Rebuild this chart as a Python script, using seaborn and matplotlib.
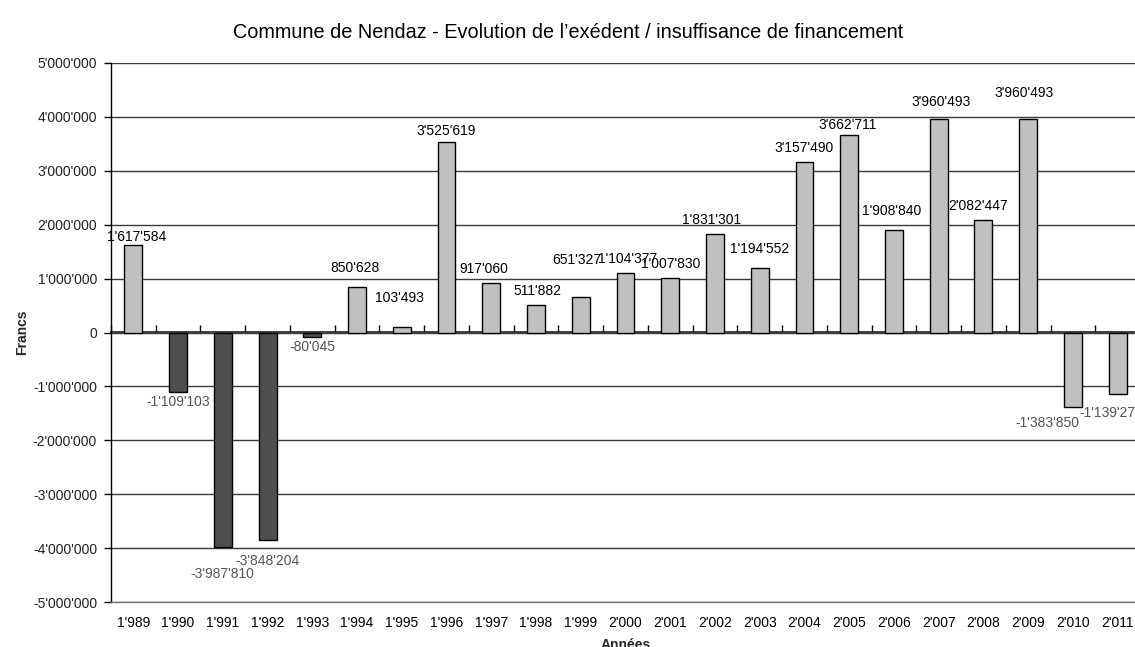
import matplotlib
matplotlib.use("Agg")
import matplotlib.pyplot as plt
import seaborn as sns
import pandas as pd
import numpy as np
from matplotlib.ticker import FixedLocator, FuncFormatter

years = list(range(1989, 2012))
values = [1617584, -1109103, -3987810, -3848204, -80045, 850628, 103493, 3525619,
          917060, 511882, 651327, 1104377, 1007830, 1831301, 1194552, 3157490,
          3662711, 1908840, 3960493, 2082447, 3960493, -1383850, -1139275]
dark_years = [1990, 1991, 1992, 1993]
y_ticks = list(range(-5000000, 5000001, 1000000))

# label offsets in pixels (dx, dy) relative to bar end
label_offsets = [(3, 8), (0, -10), (-1, -27), (0, -21), (0, -10), (-2, 19), (-2, 29), (0, 11),
                 (-7, 14), (1, 14), (-4, 37), (2, 14), (0, 14), (-3, 14), (0, 19), (0, 14),
                 (-2, 10), (-2, 19), (2, 17), (-5, 14), (-4, 26), (-26, -16), (-6, -19)]

def fmt(v):
    return f"{int(v):,}".replace(",", "'")

sns.set_theme(style="white")
plt.rcParams['font.family'] = ['Liberation Sans', 'DejaVu Sans']

df = pd.DataFrame({"year": [fmt(y) for y in years], "value": values})
df["grp"] = ["dark" if y in dark_years else "light" for y in years]
palette = {"dark": "#4F4F4F", "light": "#C0C0C0"}

fig = plt.figure(figsize=(11.35, 6.47), dpi=100)
ax = fig.add_axes([111/1135, 1-602/647, 1029/1135, 539/647])

sns.barplot(data=df, x="year", y="value", hue="grp", palette=palette, dodge=False,
            width=0.40, edgecolor="black", linewidth=1.0, legend=False, ax=ax, zorder=3)

ax.set_ylim(-5000000, 5000000)
ax.set_xlim(-0.5, len(years) - 0.5)
ax.yaxis.set_major_locator(FixedLocator(y_ticks))
ax.yaxis.set_major_formatter(FuncFormatter(lambda v, p: fmt(v)))
ax.grid(axis="y", color="#3a3a3a", linewidth=1.0, zorder=0)
ax.set_axisbelow(True)

for s in ["top", "right"]:
    ax.spines[s].set_visible(False)
ax.spines["left"].set_color("black")
ax.spines["left"].set_linewidth(1.0)
ax.spines["bottom"].set_color("#777777")
ax.spines["bottom"].set_linewidth(1.0)

ax.tick_params(axis="y", direction="out", length=5, width=1, color="black",
               labelsize=10, pad=5, left=True)
ax.tick_params(axis="x", length=0, labelsize=10, pad=10, labelcolor="black")
for t in ax.get_yticklabels():
    t.set_color("#222222")

# zero axis with category-boundary ticks
sec = ax.secondary_xaxis(0.5)
sec.set_xticks(np.arange(-0.5, len(years) + 0.5, 1.0))
sec.set_xticklabels([])
sec.tick_params(axis="x", direction="out", length=5, width=1, color="black")
sec.spines["bottom"].set_color("black")
sec.spines["bottom"].set_linewidth(1.0)

ax.set_ylabel("Francs", fontsize=10, fontweight="bold", labelpad=3)
ax.set_xlabel("Années", fontsize=10, fontweight="bold", labelpad=6)

for i, (v, (dx, dy)) in enumerate(zip(values, label_offsets)):
    col = "black" if v >= 0 else "#555555"
    ax.annotate(fmt(v), xy=(i, v), xytext=(dx, dy), textcoords="offset pixels",
                ha="center", va="center", fontsize=10, color=col, zorder=5,
                annotation_clip=False)

fig.text(568/1135, 1-33/647, "Commune de Nendaz - Evolution de l\u2019exédent / insuffisance de financement",
         ha="center", va="center", fontsize=14.3, color="black",
         family=['Liberation Sans Narrow', 'Liberation Sans', 'DejaVu Sans'])

fig.savefig("out.png", dpi=100)
